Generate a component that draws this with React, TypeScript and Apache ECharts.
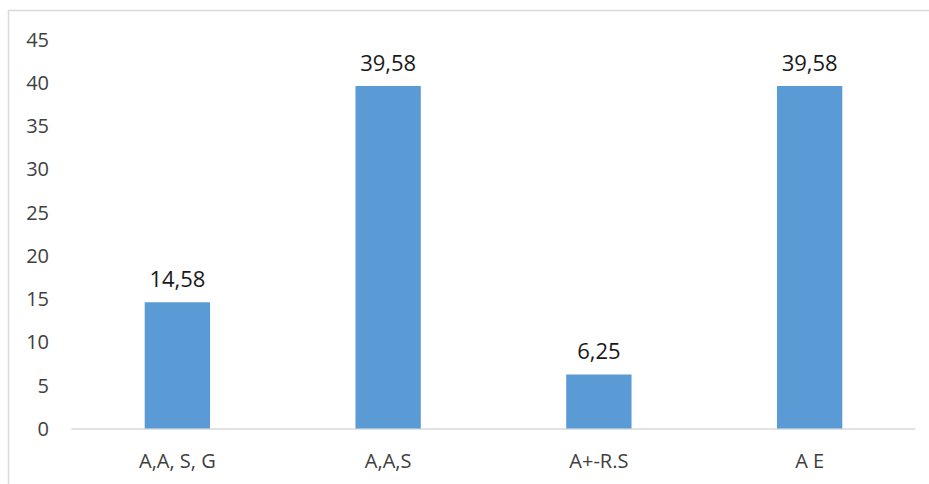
import React, { useEffect, useRef } from "react";
import * as echarts from "echarts";

const categories = ["A,A, S, G", "A,A,S", "A+-R.S", "A E"];
const values = [14.58, 39.58, 6.25, 39.58];
const yTicks = { min: 0, max: 45, interval: 5 };

export default function App() {
  const ref = useRef<HTMLDivElement>(null);
  useEffect(() => {
    if (!ref.current) return;
    const chart = echarts.init(ref.current, null, { renderer: "svg" });
    chart.setOption({
      animation: false,
      backgroundColor: "#ffffff",
      textStyle: { fontFamily: "Open Sans" },
      graphic: [
        {
          type: "rect",
          shape: { x: 8.5, y: 10.5, width: 1200, height: 1200 },
          style: { fill: "none", stroke: "#d9d9d9", lineWidth: 1.5 },
          silent: true,
        },
      ],
      grid: { left: 72, right: 14, top: 39, bottom: 55.5 },
      xAxis: {
        type: "category",
        data: categories,
        axisLine: { show: true, lineStyle: { color: "#d9d9d9", width: 1.5 } },
        axisTick: { show: false },
        axisLabel: { color: "#404040", fontSize: 20, margin: 22, fontFamily: "Open Sans" },
      },
      yAxis: {
        type: "value",
        min: yTicks.min,
        max: yTicks.max,
        interval: yTicks.interval,
        axisLine: { show: false },
        axisTick: { show: false },
        splitLine: { show: false },
        axisLabel: { color: "#404040", fontSize: 20, margin: 23, fontFamily: "Open Sans" },
      },
      series: [
        {
          type: "bar",
          data: values,
          barWidth: "31%",
          itemStyle: { color: "#5b9bd5" },
          label: {
            show: true,
            position: "top",
            distance: 13,
            color: "#1a1a1a",
            fontSize: 22,
            fontFamily: "Open Sans",
            formatter: (p: any) => String(p.value).replace(".", ","),
          },
        },
      ],
    });
    return () => chart.dispose();
  }, []);
  return (
    <div
      ref={ref}
      style={{ position: "fixed", left: 0, top: 0, width: 929, height: 484 }}
    />
  );
}
